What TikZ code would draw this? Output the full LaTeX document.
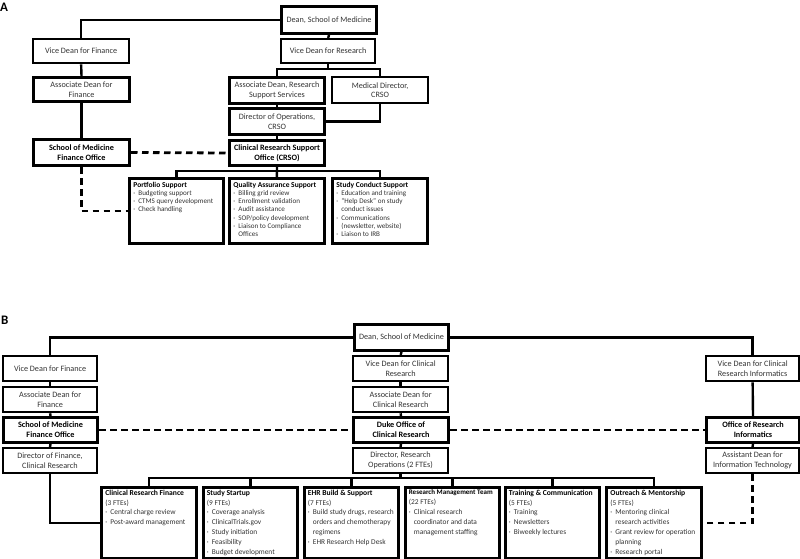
\documentclass[tikz,border=0pt]{standalone}
\usepackage{fontspec}
\setmainfont{Carlito}
\newcommand\orgfont{\fontsize{8.2}{9.8}\selectfont}
\newcommand\lstfontA{\fontsize{7.1}{8.3}\selectfont}
\newcommand\lstfontB{\fontsize{7.4}{9.8}\selectfont}
\newcommand\bul[1]{\par\hangindent=5pt\hangafter=1\noindent\makebox[5pt][l]{·}#1}
\newcommand\ttl[2][7.5]{\noindent{\fontsize{#1}{8}\selectfont\bfseries\color{black}#2}\par}
\begin{document}
\begin{tikzpicture}[x=1pt,y=-1pt,line join=miter,
  conn/.style={line width=2.4pt},
  dashconn/.style={line width=2.8pt,dash pattern=on 6.5pt off 4.5pt},
  orgbox/.style={draw,line width=2.3pt,anchor=north west,inner sep=0pt,align=center,font=\orgfont,text=black!80},
  thickorg/.style={orgbox,line width=3pt},
  keybox/.style={thickorg,font=\orgfont\bfseries,text=black},
  listbox/.style={draw,line width=2.8pt,anchor=north west,inner sep=0pt,text=black!80},
  sz/.style 2 args={minimum width=#1,minimum height=#2},
  lbl/.style={anchor=north west,inner sep=0pt,font=\fontsize{13}{15}\selectfont\bfseries}]
\useasboundingbox (0,0) rectangle (800,559);
% ---------------- Part A ----------------
\node[lbl] (labA) at (0,3) {A};
\node[thickorg,sz={95pt}{27pt}] (deanA) at (280,5) {Dean, School of Medicine};
\node[orgbox,sz={94pt}{24pt}] (vdrA) at (280,38) {Vice Dean for Research};
\node[orgbox,sz={96pt}{24pt}] (vdfA) at (32,38) {Vice Dean for Finance};
\node[thickorg,sz={96pt}{24pt}] (adfA) at (32,76) {Associate Dean for\\Finance};
\node[keybox,sz={96pt}{26pt}] (smfoA) at (32,138) {School of Medicine\\Finance Office};
\node[thickorg,sz={95pt}{26pt}] (adrssA) at (228,76) {Associate Dean, Research\\Support Services};
\node[orgbox,sz={96pt}{26pt}] (mdA) at (331,76) {Medical Director,\\CRSO};
\node[thickorg,sz={95pt}{26pt}] (dopsA) at (228,107) {Director of Operations,\\CRSO};
\node[keybox,sz={95pt}{25pt}] (crsoA) at (228,139) {Clinical Research Support\\Office (CRSO)};
\node[listbox,sz={94pt}{65pt}] (portA) at (128,177) {\parbox[c][65pt][t]{86pt}{\lstfontA\raggedright\vspace*{3.4pt}
  \ttl{Portfolio Support}
  \bul{Budgeting support}
  \bul{CTMS query development}
  \bul{Check handling}}};
\node[listbox,sz={95pt}{65pt}] (qaA) at (228,177) {\parbox[c][65pt][t]{87pt}{\lstfontA\raggedright\vspace*{3.4pt}
  \ttl{Quality Assurance Support}
  \bul{Billing grid review}
  \bul{Enrollment validation}
  \bul{Audit assistance}
  \bul{SOP/policy development}
  \bul{Liaison to Compliance\newline Offices}}};
\node[listbox,sz={95pt}{65pt}] (scA) at (331,177) {\parbox[c][65pt][t]{87pt}{\lstfontA\raggedright\vspace*{3.4pt}
  \ttl{Study Conduct Support}
  \bul{Education and training}
  \bul{``Help Desk'' on study\newline conduct issues}
  \bul{Communications\newline (newsletter, website)}
  \bul{Liaison to IRB}}};
\coordinate (brA) at (327,69);
\coordinate (brA2) at (276,171);
\draw[conn] (deanA.west) -| (vdfA.north);
\draw[conn] (vdfA.south) -- (adfA.north);
\draw[conn] (adfA.south) -- (smfoA.north);
\draw[conn] (deanA.south) -- (vdrA.north);
\draw[conn] (vdrA.south) -- (vdrA.south |- brA);
\draw[conn] (adrssA.north) -- (adrssA.north |- brA) -| (mdA.north);
\draw[conn] (adrssA.south) -- (dopsA.north);
\draw[conn] (mdA.south) |- (dopsA.east);
\draw[conn] (dopsA.south) -- (crsoA.north);
\draw[conn] (crsoA.south) -- (qaA.north);
\draw[conn] (portA.north) -- (portA.north |- brA2) -| (scA.north);
\draw[dashconn] (smfoA.east) -- (crsoA.west);
\draw[dashconn] (smfoA.south) |- (portA.west);
% ---------------- Part B ----------------
\node[lbl] (labB) at (1,316) {B};
\node[thickorg,sz={94pt}{26pt}] (deanB) at (353,323) {Dean, School of Medicine};
\node[orgbox,sz={94pt}{25pt}] (vdfB) at (2,355) {Vice Dean for Finance};
\node[orgbox,sz={94pt}{25pt}] (adfB) at (2,386) {Associate Dean for\\Finance};
\node[keybox,sz={94pt}{25pt}] (smfoB) at (2,416) {School of Medicine\\Finance Office};
\node[orgbox,line width=2pt,sz={94pt}{25pt}] (dfcrB) at (2,447) {Director of Finance,\\Clinical Research};
\node[orgbox,sz={95pt}{25pt}] (vdcrB) at (352,355) {Vice Dean for Clinical\\Research};
\node[orgbox,sz={95pt}{25pt}] (adcrB) at (352,386) {Associate Dean for\\Clinical Research};
\node[keybox,sz={95pt}{25pt}] (docrB) at (352,416) {Duke Office of\\Clinical Research};
\node[orgbox,line width=2pt,sz={95pt}{25pt}] (droB) at (352,447) {Director, Research\\Operations (2 FTEs)};
\node[orgbox,sz={93pt}{25pt}] (vdcriB) at (705,355) {Vice Dean for Clinical\\Research Informatics};
\node[keybox,sz={93pt}{25pt}] (oriB) at (705,416) {Office of Research\\Informatics};
\node[orgbox,line width=2pt,sz={93pt}{25pt}] (aditB) at (705,447) {Assistant Dean for\\Information Technology};
\node[listbox,sz={95pt}{71pt}] (crfB) at (100,486) {\parbox[c][71pt][t]{87pt}{\lstfontB\raggedright\vspace*{2.5pt}
  \ttl[7.6]{Clinical Research Finance}\noindent(3 FTEs)
  \bul{Central charge review}
  \bul{Post-award management}}};
\node[listbox,sz={94pt}{71pt}] (ssB) at (202,486) {\parbox[c][71pt][t]{87pt}{\lstfontB\raggedright\vspace*{2.5pt}
  \ttl[7.6]{Study Startup}\noindent(9 FTEs)
  \bul{Coverage analysis}
  \bul{ClinicalTrials.gov}
  \bul{Study initiation}
  \bul{Feasibility}
  \bul{Budget development}}};
\node[listbox,sz={94pt}{71pt}] (ehrB) at (303,486) {\parbox[c][71pt][t]{87pt}{\lstfontB\raggedright\vspace*{2.5pt}
  \ttl[7.6]{EHR Build \& Support}\noindent(7 FTEs)
  \bul{Build study drugs, research\newline orders and chemotherapy\newline regimens}
  \bul{EHR Research Help Desk}}};
\node[listbox,sz={94pt}{71pt}] (rmtB) at (404,486) {\parbox[c][71pt][t]{87pt}{\lstfontB\raggedright\vspace*{2.5pt}
  \ttl[7.0]{Research Management Team}\noindent(22 FTEs)
  \bul{Clinical research\newline coordinator and data\newline management staffing}}};
\node[listbox,sz={94pt}{71pt}] (tcB) at (504,486) {\parbox[c][71pt][t]{87pt}{\lstfontB\raggedright\vspace*{2.5pt}
  \ttl[7.6]{Training \& Communication}\noindent(5 FTEs)
  \bul{Training}
  \bul{Newsletters}
  \bul{Biweekly lectures}}};
\node[listbox,sz={95pt}{71pt}] (omB) at (605,486) {\parbox[c][71pt][t]{87pt}{\lstfontB\raggedright\vspace*{2.5pt}
  \ttl[7.6]{Outreach \& Mentorship}\noindent(5 FTEs)
  \bul{Mentoring clinical\newline research activities}
  \bul{Grant review for operation\newline planning}
  \bul{Research portal}}};
\coordinate (brB) at (400,478);
\draw[conn] (deanB.west) -| (vdfB.north);
\draw[conn] (deanB.east) -| (vdcriB.north);
\draw[conn] (deanB.south) -- (vdcrB.north);
\draw[conn] (vdcrB.south) -- (adcrB.north);
\draw[conn] (adcrB.south) -- (docrB.north);
\draw[conn] (docrB.south) -- (droB.north);
\draw[conn] (vdfB.south) -- (adfB.north);
\draw[conn] (adfB.south) -- (smfoB.north);
\draw[conn] (smfoB.south) -- (dfcrB.north);
\draw[conn] (dfcrB.south) |- (crfB.west);
\draw[conn] (vdcriB.south) -- (oriB.north);
\draw[conn] (oriB.south) -- (aditB.north);
\draw[conn] (droB.south) -- (droB.south |- brB);
\draw[conn] (crfB.north) -- (crfB.north |- brB) -| (omB.north);
\draw[conn] (ssB.north) -- (ssB.north |- brB);
\draw[conn] (ehrB.north) -- (ehrB.north |- brB);
\draw[conn] (rmtB.north) -- (rmtB.north |- brB);
\draw[conn] (tcB.north) -- (tcB.north |- brB);
\draw[dashconn] (smfoB.east) -- (docrB.west);
\draw[dashconn] (docrB.east) -- (oriB.west);
\draw[dashconn] (aditB.south) |- (omB.east);
\end{tikzpicture}
\end{document}
